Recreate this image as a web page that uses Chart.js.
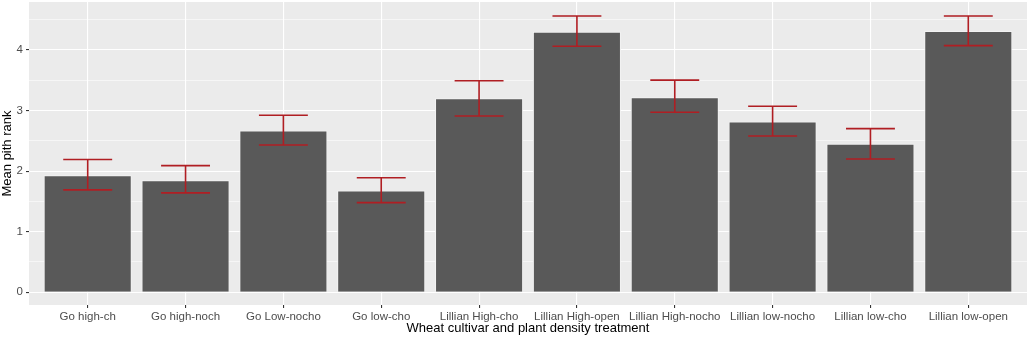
<!DOCTYPE html>
<html>
<head>
<meta charset="utf-8">
<script src="https://cdn.jsdelivr.net/npm/chart.js@4"></script>
<style>
  html, body { margin: 0; padding: 0; background: #ffffff; }
  #wrap { width: 1031px; height: 340px; position: relative; }
</style>
</head>
<body>
<div id="wrap"><canvas id="c" width="1031" height="340"></canvas></div>
<script>
const categories = ["Go high-ch", "Go high-noch", "Go Low-nocho", "Go low-cho", "Lillian High-cho",
  "Lillian High-open", "Lillian High-nocho", "Lillian low-nocho", "Lillian low-cho", "Lillian low-open"];
const meanRank = [1.93, 1.85, 2.67, 1.68, 3.20, 4.30, 3.22, 2.82, 2.45, 4.31];
const errLower = [1.69, 1.64, 2.43, 1.48, 2.91, 4.06, 2.97, 2.58, 2.20, 4.07];
const errUpper = [2.19, 2.09, 2.92, 1.89, 3.49, 4.56, 3.50, 3.07, 2.70, 4.56];
const yTicks = [0, 0.5, 1, 1.5, 2, 2.5, 3, 3.5, 4, 4.5];
const yTitle = "Mean pith rank";
const xTitle = "Wheat cultivar and plant density treatment";

const panelBg = {
  id: 'panelBg',
  beforeDraw(chart) {
    const a = chart.chartArea, ctx = chart.ctx;
    ctx.save();
    ctx.fillStyle = '#EBEBEB';
    ctx.fillRect(a.left, a.top, a.right - a.left, a.bottom - a.top);
    ctx.restore();
  }
};

const errorBars = {
  id: 'errorBars',
  afterDatasetsDraw(chart) {
    const xs = chart.scales.x, ys = chart.scales.y, ctx = chart.ctx;
    ctx.save();
    ctx.strokeStyle = '#B01E23';
    ctx.lineWidth = 1.6;
    for (let i = 0; i < categories.length; i++) {
      const xc = xs.getPixelForValue(i);
      const x0 = xs.getPixelForValue(i - 0.25);
      const x1 = xs.getPixelForValue(i + 0.25);
      const yl = ys.getPixelForValue(errLower[i]);
      const yu = ys.getPixelForValue(errUpper[i]);
      ctx.beginPath();
      ctx.moveTo(x0, yu); ctx.lineTo(x1, yu);
      ctx.moveTo(x0, yl); ctx.lineTo(x1, yl);
      ctx.moveTo(xc, yu); ctx.lineTo(xc, yl);
      ctx.stroke();
    }
    ctx.restore();
  }
};

new Chart(document.getElementById('c'), {
  type: 'bar',
  data: {
    datasets: [{
      data: meanRank.map((v, i) => ({ x: i, y: v })),
      backgroundColor: '#595959',
      borderColor: '#F2F2F2',
      borderWidth: 1,
      barPercentage: 1.0,
      categoryPercentage: 0.9
    }]
  },
  options: {
    responsive: false,
    animation: false,
    devicePixelRatio: 1,
    layout: { padding: { left: 0, top: 2, right: 4, bottom: 0 } },
    plugins: { legend: { display: false }, tooltip: { enabled: false } },
    scales: {
      x: {
        type: 'linear',
        offset: false,
        min: -0.6,
        max: 9.6,
        afterBuildTicks(scale) { scale.ticks = categories.map((c, i) => ({ value: i })); },
        afterFit(scale) { scale.height = 35; scale.paddingLeft = 0; scale.paddingRight = 0; },
        border: { display: false },
        grid: { offset: false, color: '#FFFFFF', lineWidth: 1.1, tickColor: '#333333', tickLength: 3, drawTicks: true },
        ticks: {
          autoSkip: false, maxRotation: 0, padding: 2,
          color: '#4D4D4D',
          font: { family: 'Liberation Sans, Arial, sans-serif', size: 11.5 },
          callback: (v) => categories[v] ?? ''
        },
        title: {
          display: true, text: xTitle, color: '#000000',
          font: { family: 'Liberation Sans, Arial, sans-serif', size: 13 },
          padding: { top: 0, bottom: 4 }
        }
      },
      y: {
        min: -0.21,
        max: 4.79,
        afterBuildTicks(scale) { scale.ticks = yTicks.map(v => ({ value: v })); },
        afterFit(scale) { scale.width = 29; scale.paddingTop = 0; scale.paddingBottom = 0; },
        border: { display: false },
        grid: {
          color: '#FFFFFF',
          lineWidth: (ctx) => (ctx.tick && Number.isInteger(ctx.tick.value)) ? 1.1 : 0.55,
          tickColor: (ctx) => (ctx.tick && Number.isInteger(ctx.tick.value)) ? '#333333' : 'rgba(0,0,0,0)',
          tickLength: 3
        },
        ticks: {
          padding: 3,
          color: '#4D4D4D',
          font: { family: 'Liberation Sans, Arial, sans-serif', size: 11.5 },
          callback: (v) => Number.isInteger(v) ? String(v) : ''
        },
        title: {
          display: true, text: yTitle, color: '#000000',
          font: { family: 'Liberation Sans, Arial, sans-serif', size: 13 },
          padding: { top: 0, bottom: 0 }
        }
      }
    }
  },
  plugins: [panelBg, errorBars]
});
</script>
</body>
</html>
